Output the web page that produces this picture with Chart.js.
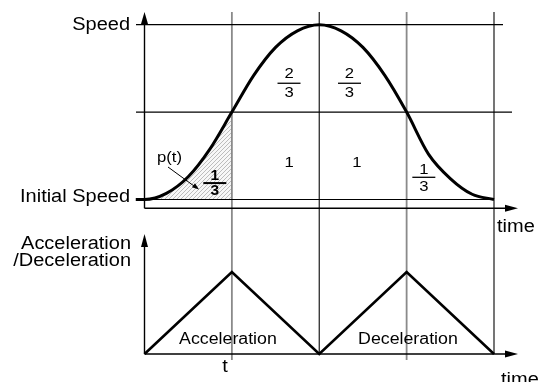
<!DOCTYPE html>
<html>
<head>
<meta charset="utf-8">
<title>Speed profile</title>
<script src="https://cdn.jsdelivr.net/npm/chart.js@4.4.1/dist/chart.umd.min.js"></script>
<style>
    html, body {
        margin: 0;
        padding: 0;
        background: #ffffff;
    }

    #wrap {
        position: relative;
        width: 542px;
        height: 382px;
    }
</style>
</head>
<body>
<div id="wrap">
    <canvas id="chart" width="542" height="382"></canvas>
</div>

<script>
// time in units of t, speed from initial (0) to target (1)
const timeMarks = [1, 2, 3, 4];

const speedTimes = [-0.1, 0, 0.25, 0.5, 0.75, 1, 1.25, 1.5, 1.75, 2, 2.25, 2.5, 2.75, 3, 3.25, 3.5, 3.75, 4];
const speedValues = [0, 0, 0.035, 0.13, 0.29, 0.5, 0.71, 0.87, 0.965, 1, 0.965, 0.87, 0.71, 0.5, 0.26, 0.12, 0.03, 0];

// shaded area p(t) under the first segment
const shadeTimes = [0, 0.25, 0.5, 0.75, 1];
const shadeValues = [0, 0.035, 0.13, 0.29, 0.5];

const accelTimes = [0, 1, 2, 3, 4];
const accelValues = [0, 1, 0, 1, 0];

const speedLevels = [0, 0.5, 1];
const speedLabels = ["Initial Speed", "Speed"];
const accelLabels = ["Acceleration", "/Deceleration"];
const phaseLabels = ["Acceleration", "Deceleration"];
const upperAreas = ["2/3", "2/3"];
const lowerAreas = ["1/3", "1", "1", "1/3"];

// where the drawing sits on the page
const W = 542;
const H = 382;
const frame = {
    x0: 144.5,
    x4: 494,
    speed0: 199.5,
    speed1: 24.7,
    accel0: 354,
    accel1: 272
};

const xPer = (frame.x4 - frame.x0) / 4;
const xMin = -frame.x0 / xPer;
const speedPer = frame.speed0 - frame.speed1;
const speedMin = -(H - frame.speed0) / speedPer;
const accelPer = frame.accel0 - frame.accel1;
const accelMin = -(H - frame.accel0) / accelPer;

const FONT = '"Liberation Sans", Arial, sans-serif';

function makeHatch(ctx) {
    const tile = document.createElement("canvas");
    tile.width = 4;
    tile.height = 4;
    const g = tile.getContext("2d");
    g.fillStyle = "#f7f7f7";
    g.fillRect(0, 0, 4, 4);
    g.strokeStyle = "#b4b4b4";
    g.lineWidth = 0.9;
    g.beginPath();
    g.moveTo(-1, 1); g.lineTo(1, -1);
    g.moveTo(0, 4); g.lineTo(4, 0);
    g.moveTo(3, 5); g.lineTo(5, 3);
    g.stroke();
    return ctx.createPattern(tile, "repeat");
}

function text(ctx, s, x, y, size, align, bold) {
    ctx.save();
    ctx.font = (bold ? "bold " : "") + size + "px " + FONT;
    ctx.textAlign = align;
    ctx.textBaseline = "middle";
    ctx.fillStyle = "#000";
    ctx.translate(x, y);
    ctx.scale(1.11, 1);
    ctx.fillText(s, 0, 0);
    ctx.restore();
}

function fraction(ctx, s, cx, barY, size, bold, gapUp, gapDown) {
    const parts = s.split("/");
    if (parts.length < 2) {
        text(ctx, s, cx, barY, size, "center", bold);
        return;
    }
    text(ctx, parts[0], cx, barY - gapUp, size, "center", bold);
    text(ctx, parts[1], cx, barY + gapDown, size, "center", bold);
    ctx.save();
    ctx.strokeStyle = "#000";
    ctx.lineWidth = bold ? 2 : 1.3;
    ctx.beginPath();
    ctx.moveTo(cx - 11.5, barY);
    ctx.lineTo(cx + 11.5, barY);
    ctx.stroke();
    ctx.restore();
}

function line(ctx, x1, y1, x2, y2, color, width) {
    ctx.save();
    ctx.strokeStyle = color;
    ctx.lineWidth = width;
    ctx.beginPath();
    ctx.moveTo(x1, y1);
    ctx.lineTo(x2, y2);
    ctx.stroke();
    ctx.restore();
}

function arrowHead(ctx, tipX, tipY, dx, dy, len, half) {
    // dx, dy = unit direction of the arrow
    const bx = tipX - dx * len;
    const by = tipY - dy * len;
    ctx.save();
    ctx.fillStyle = "#000";
    ctx.beginPath();
    ctx.moveTo(tipX, tipY);
    ctx.lineTo(bx - dy * half, by + dx * half);
    ctx.lineTo(bx + dy * half, by - dx * half);
    ctx.closePath();
    ctx.fill();
    ctx.restore();
}

const diagramPlugin = {
    id: "diagram",

    beforeDatasetsDraw(chart) {
        const ctx = chart.ctx;
        const x = chart.scales.x;
        const ys = chart.scales.ys;
        const ya = chart.scales.ya;

        const px0 = x.getPixelForValue(0);
        const top0 = ys.getPixelForValue(0);

        // vertical time marks through both panels
        timeMarks.forEach(function (t) {
            const px = x.getPixelForValue(t);
            const gray = t % 2 === 1;
            line(ctx, px, 12, px, ya.getPixelForValue(0) + (gray ? 6 : 0),
                gray ? "#8a8a8a" : "#1a1a1a", gray ? 1.8 : 1.2);
        });

        // speed levels
        const ends = [x.getPixelForValue(4), 512, 503];
        speedLevels.forEach(function (v, i) {
            const py = ys.getPixelForValue(v);
            line(ctx, 136, py, ends[i], py, "#000", 1.2);
        });

        // upper axes
        const axisY = top0 + 8.8;
        line(ctx, px0, axisY, px0, 20, "#000", 1.4);
        arrowHead(ctx, px0, 12, 0, -1, 12, 3.5);
        line(ctx, px0, axisY, 508, axisY, "#000", 1.4);
        arrowHead(ctx, 518, axisY, 1, 0, 13, 3.5);

        // lower axes
        const baseY = ya.getPixelForValue(0);
        line(ctx, px0, baseY, px0, 242, "#000", 1.4);
        arrowHead(ctx, px0, 234, 0, -1, 13, 3.5);
        line(ctx, px0, baseY, 508, baseY, "#000", 1.4);
        arrowHead(ctx, 518, baseY, 1, 0, 13, 3.5);
    },

    afterDatasetsDraw(chart) {
        const ctx = chart.ctx;
        const x = chart.scales.x;
        const ys = chart.scales.ys;
        const ya = chart.scales.ya;

        // axis titles
        text(ctx, speedLabels[1], 130, 25, 18, "right");
        text(ctx, speedLabels[0], 130, 197.5, 18, "right");
        text(ctx, "time", 497, 227, 18, "left");
        text(ctx, accelLabels[0], 131, 244, 18, "right");
        text(ctx, accelLabels[1], 131, 261, 18, "right");
        text(ctx, "t", 225, 367, 18, "center");
        text(ctx, "time", 501, 380.5, 18, "left");

        // phase names
        text(ctx, phaseLabels[0], x.getPixelForValue(0.955), ya.getPixelForValue(0.18), 16, "center");
        text(ctx, phaseLabels[1], x.getPixelForValue(3.015), ya.getPixelForValue(0.18), 16, "center");

        // area ratios
        fraction(ctx, upperAreas[0], x.getPixelForValue(1.654), ys.getPixelForValue(0.665), 15, false, 9, 9.4);
        fraction(ctx, upperAreas[1], x.getPixelForValue(2.346), ys.getPixelForValue(0.665), 15, false, 9, 9.4);
        fraction(ctx, lowerAreas[0], x.getPixelForValue(0.805), ys.getPixelForValue(0.094), 14, true, 7.3, 8);
        fraction(ctx, lowerAreas[1], x.getPixelForValue(1.654), ys.getPixelForValue(0.212), 15, false, 0, 0);
        fraction(ctx, lowerAreas[2], x.getPixelForValue(2.432), ys.getPixelForValue(0.212), 15, false, 0, 0);
        fraction(ctx, lowerAreas[3], x.getPixelForValue(3.197), ys.getPixelForValue(0.127), 15, false, 7.6, 9.4);

        // p(t) pointer
        text(ctx, "p(t)", 157, 158, 15, "left");
        line(ctx, 168, 167, 194, 186, "#000", 1);
        arrowHead(ctx, 199, 189.5, 0.79, 0.61, 7, 2.5);
    }
};

const canvas = document.getElementById("chart");
const ctx2d = canvas.getContext("2d");

new Chart(canvas, {
    type: "line",

    data: {
        datasets: [
            {
                label: "p(t)",
                data: shadeTimes.map(function (t, i) {
                    return { x: t, y: shadeValues[i] };
                }),
                yAxisID: "ys",
                fill: "origin",
                backgroundColor: makeHatch(ctx2d),
                borderWidth: 0,
                pointRadius: 0,
                cubicInterpolationMode: "monotone"
            },
            {
                label: "Speed",
                data: speedTimes.map(function (t, i) {
                    return { x: t, y: speedValues[i] };
                }),
                yAxisID: "ys",
                fill: false,
                borderColor: "#000",
                borderWidth: 3,
                pointRadius: 0,
                cubicInterpolationMode: "monotone"
            },
            {
                label: "Acceleration/Deceleration",
                data: accelTimes.map(function (t, i) {
                    return { x: t, y: accelValues[i] };
                }),
                yAxisID: "ya",
                fill: false,
                borderColor: "#000",
                borderWidth: 2.6,
                pointRadius: 0,
                tension: 0
            }
        ]
    },

    options: {
        responsive: false,
        animation: false,
        devicePixelRatio: 1,

        layout: {
            padding: 0
        },

        plugins: {
            legend: { display: false },
            tooltip: { enabled: false },
            filler: { drawTime: "beforeDraw" }
        },

        scales: {
            x: {
                type: "linear",
                display: false,
                min: xMin,
                max: xMin + W / xPer
            },

            ys: {
                type: "linear",
                display: false,
                min: speedMin,
                max: speedMin + H / speedPer
            },

            ya: {
                type: "linear",
                display: false,
                min: accelMin,
                max: accelMin + H / accelPer
            }
        }
    },

    plugins: [diagramPlugin]
});
</script>
</body>
</html>
